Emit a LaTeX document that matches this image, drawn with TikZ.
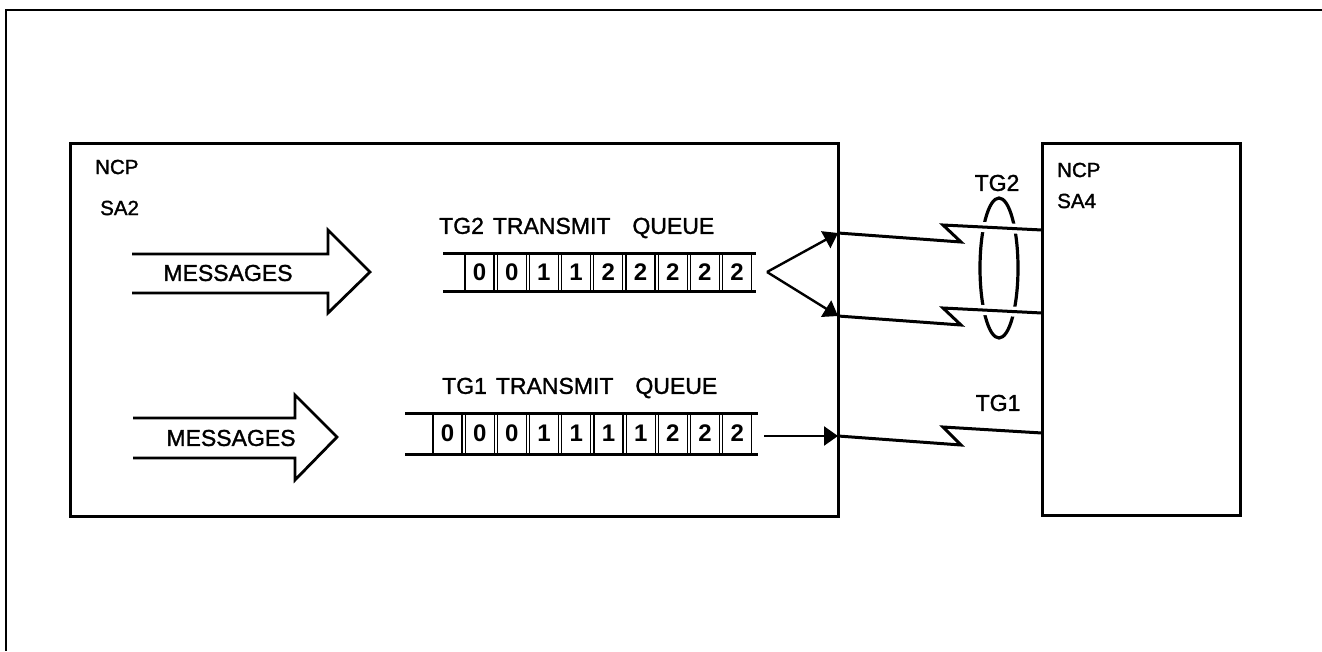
\documentclass[tikz,border=0pt]{standalone}
\usepackage{fontspec}
\setmainfont{Liberation Sans}
\newfontfamily\medfont[FakeBold=1.4]{Liberation Sans}
\usetikzlibrary{arrows.meta}
\begin{document}
\begin{tikzpicture}[x=1pt,y=-1pt,
  box/.style={draw,line width=3pt,inner sep=0pt},
  lbl/.style={font=\medfont\fontsize{23}{25}\selectfont, inner sep=0pt},
  smalllbl/.style={font=\medfont\fontsize{20.5}{22}\selectfont, inner sep=0pt, anchor=west},
  cell/.style={draw,line width=1.3pt,minimum width=29pt,inner sep=0pt,font=\bfseries\fontsize{24}{25}\selectfont},
  qline/.style={line width=3pt},
  fat/.style={line width=2.8pt,line join=miter},
  link/.style={line width=3pt,line join=miter,preaction={draw=white,line width=10pt}},
  conn/.style={line width=2.4pt,-{Triangle[length=14pt,width=19pt]}}
]
\useasboundingbox (0,0) rectangle (1322,651);
\fill[white] (0,0) rectangle (1322,651);
% outer frame (runs off the picture at right and bottom)
\draw[line width=2.5pt] (1322,10) -- (6,10) -- (6,651);

% TG2 ellipse (drawn first so the links break it)
\draw[line width=3.2pt] (999,268) ellipse [x radius=19, y radius=70];

% link end points
\coordinate (t2a) at (838,233);
\coordinate (t2b) at (838,316);
\coordinate (t1) at (838,436);
\coordinate (e2a) at (1042,230);
\coordinate (e2b) at (1042,313);
\coordinate (e1) at (1042,433);

% communication links (zig-zag)
\draw[link] (t2a) -- (961,242) -- (943,225) -- (e2a);
\draw[link] (t2b) -- (961,325) -- (943,308) -- (e2b);
\draw[link] (t1) -- (961,445) -- (943,427) -- (e1);

% boxes
\node[box, minimum width=768pt, minimum height=373pt] (sa2) at (454,329.5) {};
\node[box, minimum width=198pt, minimum height=372pt] (sa4) at (1141,329) {};

\node[smalllbl] (ncp1) at (95,167) {NCP};
\node[smalllbl] (sa2l) at (100,208) {SA2};
\node[smalllbl] (ncp2) at (1057,170) {NCP};
\node[smalllbl] (sa4l) at (1057,201) {SA4};

% link labels
\node[lbl] (tg2) at (997,183) {TG2};
\node[lbl] (tg1) at (998,403) {TG1};

% message arrows
\draw[fat] (132,254) -- (328,254) -- (328,230) -- (370,272) -- (328,313) -- (328,293) -- (132,293);
\node[lbl] (msg1) at (228,273) {MESSAGES};
\draw[fat] (133,418) -- (295,418) -- (295,395) -- (337,437) -- (295,480) -- (295,458) -- (133,458);
\node[lbl] (msg2) at (231,438) {MESSAGES};

% TG2 transmit queue
\node[lbl, anchor=west] (q2l) at (439,228) {TG2\hspace{9pt}TRANSMIT\hspace{22pt}QUEUE};
\draw[qline] (443,253) -- (756,253);
\draw[qline] (443,291) -- (756,291);
\foreach \d [count=\i from 0] in {0,0,1,1,2,2,2,2,2}
  \node[cell, minimum height=37pt] (qa\i) at ({479.5+32.2*\i},272) {\d};

% TG1 transmit queue
\node[lbl, anchor=west] (q1l) at (442,388) {TG1\hspace{9pt}TRANSMIT\hspace{22pt}QUEUE};
\draw[qline] (405,413) -- (758,413);
\draw[qline] (405,454) -- (758,454);
\foreach \d [count=\i from 0] in {0,0,0,1,1,1,1,2,2,2}
  \node[cell, minimum height=40pt] (qb\i) at ({447.5+32.2*\i},433.5) {\d};

% connectors from queues to the links
\coordinate (apex) at (767,272);
\draw[conn] (apex) -- (t2a);
\draw[conn] (apex) -- (t2b);
\draw[conn, shorten <=12pt] (qb9.east |- t1) -- (t1);
\end{tikzpicture}
\end{document}
